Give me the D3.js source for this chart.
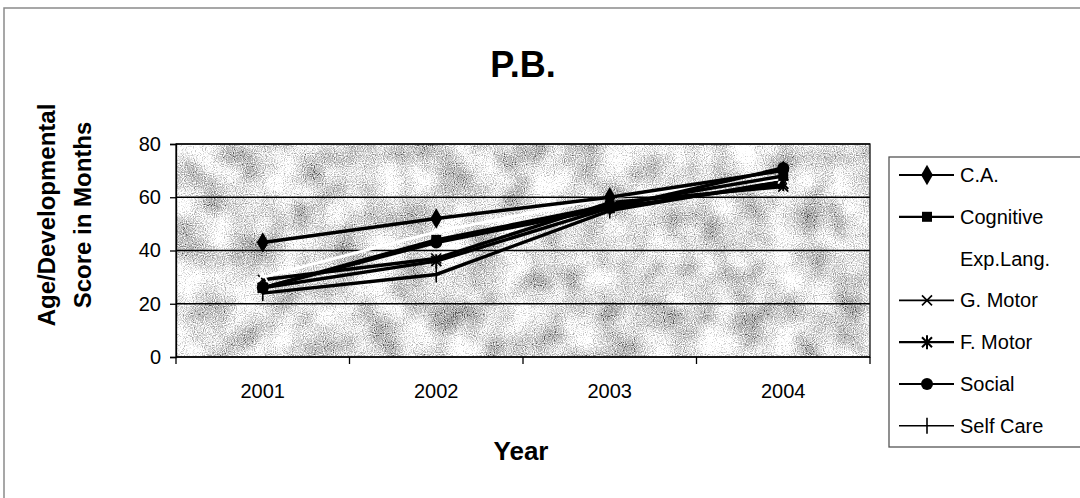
<!DOCTYPE html>
<html>
<head>
<meta charset="utf-8">
<script src="https://cdn.jsdelivr.net/npm/d3@7"></script>
<style>
  body { margin: 0; background: #fff; }
  svg { display: block; font-family: Arial, "Liberation Sans", sans-serif; }
</style>
</head>
<body>
<div id="chart"></div>
<script>
// chart data
var years = ["2001", "2002", "2003", "2004"];
var yTicks = [0, 20, 40, 60, 80];
var seriesNames = ["C.A.", "Cognitive", "Exp.Lang.", "G. Motor", "F. Motor", "Social", "Self Care"];
var caValues = [43, 52, 60, 70];
var cognitiveValues = [26, 44, 57, 68];
var expLangValues = [30, 47, 60, 67];
var gMotorValues = [29, 37, 58, 64];
var fMotorValues = [26, 36, 56, 65];
var socialValues = [26, 43, 56, 71];
var selfCareValues = [24, 31, 55, 66];

var seriesValues = [caValues, cognitiveValues, expLangValues, gMotorValues, fMotorValues, socialValues, selfCareValues];
var markers = ["diamond", "square", "none", "cross", "star", "circle", "plus"];
var lineColors = ["#000", "#000", "#fff", "#000", "#000", "#000", "#000"];

var w = 1080;
var h = 498;
var plot = {left: 176, right: 870, top: 144, bottom: 357};

var svg = d3.select("#chart").append("svg").attr("width", w).attr("height", h);

// speckled background texture like the scanned excel chart
var defs = svg.append("defs");
var f = defs.append("filter").attr("id", "speckle")
    .attr("x", 0).attr("y", 0).attr("width", 1).attr("height", 1)
    .attr("color-interpolation-filters", "sRGB");
var opaque = "1 0 0 0 0  1 0 0 0 0  1 0 0 0 0  0 0 0 0 1";
f.append("feTurbulence").attr("type", "fractalNoise").attr("baseFrequency", 0.9)
    .attr("numOctaves", 1).attr("seed", 4).attr("result", "fineRaw");
f.append("feColorMatrix").attr("in", "fineRaw").attr("type", "matrix")
    .attr("values", opaque).attr("result", "fine");
f.append("feTurbulence").attr("type", "fractalNoise").attr("baseFrequency", 0.03)
    .attr("numOctaves", 2).attr("seed", 9).attr("result", "coarseRaw");
f.append("feColorMatrix").attr("in", "coarseRaw").attr("type", "matrix")
    .attr("values", opaque).attr("result", "coarse");
f.append("feComposite").attr("in", "fine").attr("in2", "coarse").attr("operator", "arithmetic")
    .attr("k1", 0).attr("k2", 1.6).attr("k3", -1.0).attr("k4", 0.33).attr("result", "mix");
var ct = f.append("feComponentTransfer").attr("in", "mix");
["feFuncR", "feFuncG", "feFuncB"].forEach(function(fn) {
    ct.append(fn).attr("type", "discrete").attr("tableValues", "0.35 0.55 0.65 0.72 0.8 0.88 0.96 1");
});
ct.append("feFuncA").attr("type", "linear").attr("slope", 0).attr("intercept", 1);

// outer frame
svg.append("rect")
    .attr("x", 4).attr("y", 8).attr("width", 1200).attr("height", 700)
    .attr("fill", "none").attr("stroke", "#8a8a8a").attr("stroke-width", 1.5);

var x = d3.scaleBand().domain(years).range([plot.left, plot.right]);
var y = d3.scaleLinear().domain([0, 80]).range([plot.bottom, plot.top]);

// plot area
svg.append("rect")
    .attr("x", plot.left).attr("y", plot.top)
    .attr("width", plot.right - plot.left).attr("height", plot.bottom - plot.top)
    .attr("fill", "#bdbdbd").attr("filter", "url(#speckle)");

// gridlines
svg.append("g").selectAll("line")
    .data(yTicks.slice(1))
    .enter()
    .append("line")
    .attr("x1", plot.left).attr("x2", plot.right)
    .attr("y1", function(d) { return y(d); })
    .attr("y2", function(d) { return y(d); })
    .attr("stroke", "#000").attr("stroke-width", 1.3);

svg.append("rect")
    .attr("x", plot.left).attr("y", plot.top)
    .attr("width", plot.right - plot.left).attr("height", plot.bottom - plot.top)
    .attr("fill", "none").attr("stroke", "#111").attr("stroke-width", 1.3);

// y axis
var yAxis = svg.append("g")
    .attr("transform", "translate(" + plot.left + ",0)")
    .call(d3.axisLeft(y).tickValues(yTicks).tickSize(6).tickPadding(9));
yAxis.selectAll("text").attr("font-size", "20px").attr("fill", "#000").attr("font-family", "Arial, 'Liberation Sans', sans-serif");
yAxis.selectAll("line, path").attr("stroke", "#000").attr("stroke-width", 1.3);

// x axis - ticks at band boundaries like excel
var xAxis = svg.append("g")
    .attr("transform", "translate(0," + plot.bottom + ")");
xAxis.append("line")
    .attr("x1", plot.left).attr("x2", plot.right)
    .attr("stroke", "#000").attr("stroke-width", 1.6);
xAxis.selectAll(".tk")
    .data(years.concat(["end"]))
    .enter()
    .append("line")
    .attr("class", "tk")
    .attr("x1", function(d, i) { return i < years.length ? x(d) : plot.right; })
    .attr("x2", function(d, i) { return i < years.length ? x(d) : plot.right; })
    .attr("y1", 0).attr("y2", 7)
    .attr("stroke", "#000").attr("stroke-width", 1.3);
xAxis.selectAll("text")
    .data(years)
    .enter()
    .append("text")
    .text(function(d) { return d; })
    .attr("x", function(d) { return x(d) + x.bandwidth() / 2; })
    .attr("y", 41)
    .attr("text-anchor", "middle")
    .attr("font-size", "20px");

// titles
svg.append("text")
    .text("P.B.")
    .attr("x", 523).attr("y", 77)
    .attr("text-anchor", "middle")
    .attr("font-size", "36px").attr("font-weight", "bold");

svg.append("text")
    .text("Year")
    .attr("x", 521).attr("y", 460)
    .attr("text-anchor", "middle")
    .attr("font-size", "26px").attr("font-weight", "bold");

var yTitle = svg.append("text")
    .attr("transform", "translate(55,215) rotate(-90)")
    .attr("text-anchor", "middle")
    .attr("font-size", "24px").attr("font-weight", "bold");
yTitle.append("tspan").attr("x", 0).attr("dy", 0).text("Age/Developmental");
yTitle.append("tspan").attr("x", 0).attr("dy", 36).text("Score in Months");

// marker shapes
function drawMarker(g, type, color) {
    if (type == "diamond") {
        g.append("path").attr("d", d3.symbol().type(d3.symbolDiamond).size(120)).attr("fill", color);
    } else if (type == "square") {
        g.append("rect").attr("x", -5).attr("y", -5).attr("width", 10).attr("height", 10).attr("fill", color);
    } else if (type == "circle") {
        g.append("circle").attr("r", 6).attr("fill", color);
    } else if (type == "cross") {
        g.append("path").attr("d", "M-5,-5L5,5M-5,5L5,-5").attr("stroke", color).attr("stroke-width", 1.6);
    } else if (type == "star") {
        g.append("path").attr("d", "M-5,-5L5,5M-5,5L5,-5M0,-7L0,7").attr("stroke", color).attr("stroke-width", 2);
    } else if (type == "plus") {
        g.append("path").attr("d", "M0,-8L0,8").attr("stroke", color).attr("stroke-width", 1.6);
    } else if (type == "tri") {
        g.append("path").attr("d", "M-5,5L0,-4L5,5").attr("fill", "none").attr("stroke", color).attr("stroke-width", 1.8);
    }
}

var line = d3.line()
    .x(function(d, i) { return x(years[i]) + x.bandwidth() / 2; })
    .y(function(d) { return y(d); });

// draw order: lower black lines, then white Exp.Lang., then the rest on top
var order = [3, 4, 6, 2, 1, 5, 0];
order.forEach(function(s) {
    svg.append("path")
        .datum(seriesValues[s])
        .attr("d", line)
        .attr("fill", "none")
        .attr("stroke", lineColors[s])
        .attr("stroke-width", s == 2 ? 3 : 3.4);
    svg.selectAll(".m" + s)
        .data(seriesValues[s])
        .enter()
        .append("g")
        .attr("class", "m" + s)
        .attr("transform", function(d, i) {
            return "translate(" + (x(years[i]) + x.bandwidth() / 2) + "," + y(d) + ")";
        })
        .each(function() {
            drawMarker(d3.select(this), s == 2 ? "tri" : markers[s], lineColors[s]);
        });
});

// legend
var legend = svg.append("g");
legend.append("rect")
    .attr("x", 889).attr("y", 157).attr("width", 300).attr("height", 290)
    .attr("fill", "#fff").attr("stroke", "#555").attr("stroke-width", 1.3);

var items = legend.selectAll(".item")
    .data(seriesNames)
    .enter()
    .append("g")
    .attr("class", "item")
    .attr("transform", function(d, i) { return "translate(0," + (175 + i * 41.8) + ")"; });

items.append("line")
    .attr("x1", 899).attr("x2", 954)
    .attr("stroke", function(d, i) { return lineColors[i] == "#fff" ? "none" : "#000"; })
    .attr("stroke-width", function(d, i) { return (i == 3 || i == 6) ? 1.6 : 2.2; });

items.append("g")
    .attr("transform", "translate(927,0)")
    .each(function(d, i) {
        if (markers[i] != "none") drawMarker(d3.select(this), markers[i], "#000");
    });

items.append("text")
    .text(function(d) { return d; })
    .attr("x", 960).attr("y", 7)
    .attr("font-size", "20px");
</script>
</body>
</html>
